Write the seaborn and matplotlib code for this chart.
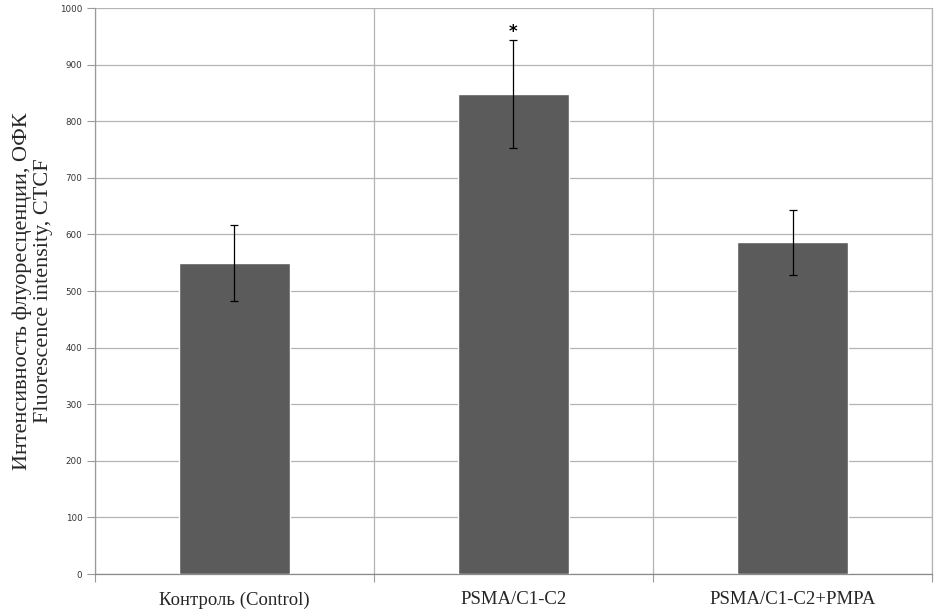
import matplotlib
matplotlib.use("Agg")
import matplotlib.pyplot as plt
import seaborn as sns
import pandas as pd

# data
groups = ["Контроль (Control)", "PSMA/C1-C2", "PSMA/C1-C2+PMPA"]
means = [550, 848, 586]
errors = [67, 95, 57]
y_label = "Интенсивность флуоресценции, ОФК\nFluorescence intensity, CTCF"

df = pd.DataFrame({"group": groups, "value": means})

sns.set_style("white")
plt.rcParams["font.family"] = ["DejaVu Sans"]

fig = plt.figure(figsize=(9.44, 6.13), dpi=100)
ax = fig.add_axes([0.1006, 0.0636, 0.8867, 0.9233])

sns.barplot(data=df, x="group", y="value", color="#5b5b5b", saturation=1,
            width=0.4, errorbar=None, ax=ax, zorder=3)
ax.errorbar(range(len(groups)), means, yerr=errors, fmt="none",
            ecolor="black", elinewidth=0.9, capsize=3, capthick=0.9, zorder=4)

# significance marker above the middle bar
ax.text(1, means[1] + errors[1] + 6, "*", ha="center", va="baseline",
        fontsize=12, fontweight="bold", color="black")

ax.set_xlim(-0.5, 2.5)
ax.set_ylim(0, 1000)
ax.set_yticks(range(0, 1001, 100))
ax.set_xticks([-0.5, 0.5, 1.5, 2.5], minor=True)

grid_col = "#b4b4b4"
ax.yaxis.grid(True, color=grid_col, linewidth=0.9, zorder=0)
ax.xaxis.grid(True, which="minor", color=grid_col, linewidth=0.9, zorder=0)
ax.set_axisbelow(True)

ax.spines["top"].set_visible(False)
ax.spines["right"].set_color(grid_col)
ax.spines["left"].set_color("#9a9a9a")
ax.spines["bottom"].set_color("#8a8a8a")
for sp in ax.spines.values():
    sp.set_linewidth(0.9)

ax.tick_params(axis="y", which="major", left=True, length=6, width=0.8,
               color="#9a9a9a", labelsize=6.3, labelcolor="#333333", pad=3)
ax.tick_params(axis="x", which="major", bottom=False, labelsize=13.5, pad=9)
ax.tick_params(axis="x", which="minor", bottom=True, length=6, width=0.8,
               color="#9a9a9a")
for lbl in ax.get_xticklabels():
    lbl.set_family("Liberation Serif")

ax.set_xlabel("")
ax.set_ylabel(y_label, family="Liberation Serif", fontsize=16, labelpad=5,
              linespacing=1.15)

fig.savefig("out.png", dpi=100)
